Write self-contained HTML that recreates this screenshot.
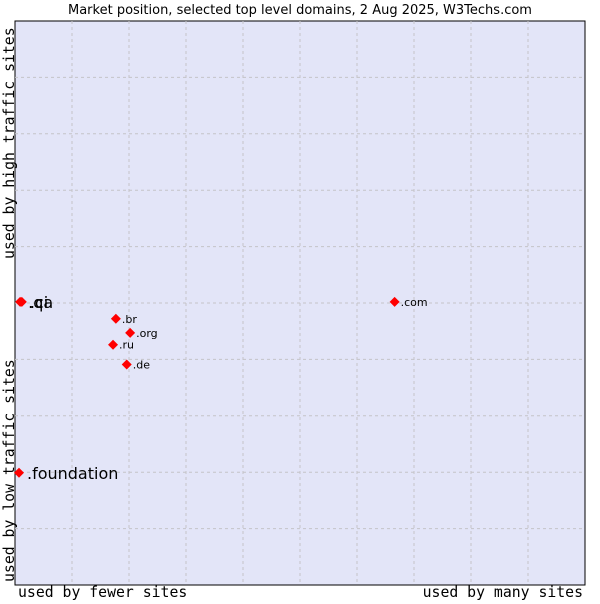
<!DOCTYPE html>
<html><head><meta charset="utf-8"><style>
body{margin:0;background:#fff;font-family:"DejaVu Sans","Liberation Sans",sans-serif}
</style></head><body>
<svg width="600" height="600" xmlns="http://www.w3.org/2000/svg">
<text x="300" y="14" text-anchor="middle" font-size="13" font-family="DejaVu Sans, sans-serif">Market position, selected top level domains, 2 Aug 2025, W3Techs.com</text>
<rect x="15" y="21" width="570" height="564" fill="#e3e5f8" stroke="#000" stroke-width="1"/>
<g id="grid"></g>
<g id="pts"></g>
<text x="18" y="597" font-size="14.8" font-family="DejaVu Sans Mono, monospace">used by fewer sites</text>
<text x="583" y="597" text-anchor="end" font-size="14.8" font-family="DejaVu Sans Mono, monospace">used by many sites</text>
<text transform="translate(14,259) rotate(-90)" font-size="14.8" font-family="DejaVu Sans Mono, monospace">used by high traffic sites</text>
<text transform="translate(14,582) rotate(-90)" font-size="14.8" font-family="DejaVu Sans Mono, monospace">used by low traffic sites</text>
</svg>
<script>
const names=[".qa",".ci",".com",".br",".org",".ru",".de",".foundation"];
const xs=[0.9,1.2,66.6,17.7,20.2,17.2,19.6,0.7];
const ys=[50.2,50.2,50.2,47.2,44.7,42.6,39.1,19.9];
const big=[1,1,0,0,0,0,0,1];
const ns="http://www.w3.org/2000/svg";
const X0=15,X1=585,Y0=585,Y1=21;
const sx=v=>X0+(X1-X0)*v/100, sy=v=>Y0-(Y0-Y1)*v/100;
const g=document.getElementById('grid');
for(let i=1;i<10;i++){
  const l=document.createElementNS(ns,'line');
  
  
  l.setAttribute('x1',X0+57*i);l.setAttribute('x2',X0+57*i);l.setAttribute('y1',Y1);l.setAttribute('y2',Y0);
  l.setAttribute('stroke','#c4c4c8');l.setAttribute('stroke-dasharray','3,3');g.appendChild(l);
  const h=document.createElementNS(ns,'line');
  
  
  const y=Y1+56.4*i;
  h.setAttribute('x1',X0);h.setAttribute('x2',X1);h.setAttribute('y1',y);h.setAttribute('y2',y);
  h.setAttribute('stroke','#c4c4c8');h.setAttribute('stroke-dasharray','3,3');g.appendChild(h);
}
const p=document.getElementById('pts');
names.forEach((n,i)=>{
  const x=sx(xs[i]),y=sy(ys[i]);
  const d=document.createElementNS(ns,'polygon');
  
  
  d.setAttribute('points',`${x},${y-5} ${x+5},${y} ${x},${y+5} ${x-5},${y}`);
  d.setAttribute('fill','#f00');p.appendChild(d);
  const t=document.createElementNS(ns,'text');
  
  
  t.setAttribute('x',x+(big[i]?8:6));t.setAttribute('y',y+(big[i]?6:4));
  t.setAttribute('font-size',big[i]?16:11);
  t.textContent=n;p.appendChild(t);
});
</script>
</body></html>
